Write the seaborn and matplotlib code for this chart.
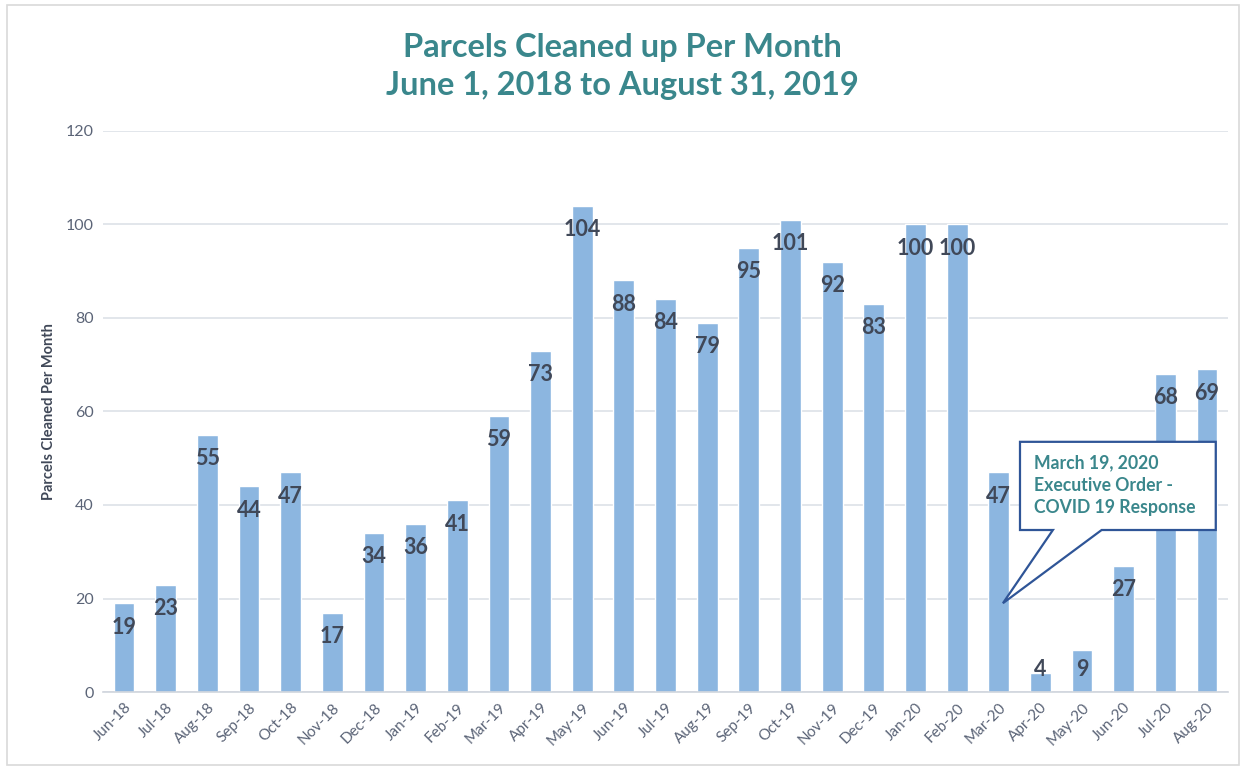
import matplotlib
matplotlib.use("Agg")
import numpy as np
import pandas as pd
import seaborn as sns
import matplotlib.pyplot as plt
from matplotlib.patches import Polygon, Rectangle

# === DONNÉES ===
months = ["Jun-18", "Jul-18", "Aug-18", "Sep-18", "Oct-18", "Nov-18", "Dec-18",
          "Jan-19", "Feb-19", "Mar-19", "Apr-19", "May-19", "Jun-19", "Jul-19",
          "Aug-19", "Sep-19", "Oct-19", "Nov-19", "Dec-19", "Jan-20", "Feb-20",
          "Mar-20", "Apr-20", "May-20", "Jun-20", "Jul-20", "Aug-20"]
parcels = [19, 23, 55, 44, 47, 17, 34, 36, 41, 59, 73, 104, 88, 84, 79, 95,
           101, 92, 83, 100, 100, 47, 4, 9, 27, 68, 69]
callout_lines = ["March 19, 2020", "Executive Order -", "COVID 19 Response"]

df = pd.DataFrame({"month": months, "parcels": parcels})

# === STYLE ===
sns.set_theme(style="white")
plt.rcParams["font.family"] = ["Lato", "DejaVu Sans"]

BAR = "#8cb6e0"
TEAL = "#3a878c"
LABEL = "#404858"
TICK = "#5b6477"
GRID = "#dde1e8"

fig = plt.figure(figsize=(12.44, 7.69), dpi=100)
ax = fig.add_axes([0.083, 0.100, 0.904, 0.730])

sns.barplot(data=df, x="month", y="parcels", color=BAR, saturation=1,
            width=0.5, ax=ax)

ax.set_ylim(0, 120)
ax.set_xlim(-0.5, len(months) - 0.5)
ax.set_yticks(range(0, 121, 20))
ax.yaxis.grid(True, color=GRID, linewidth=1.2)
ax.set_axisbelow(True)
for s in ["top", "right", "left"]:
    ax.spines[s].set_visible(False)
ax.spines["bottom"].set_color("#d0d5dd")
ax.spines["bottom"].set_linewidth(1.2)

ax.tick_params(axis="y", length=0, labelsize=11.5, labelcolor=TICK, pad=7)
ax.tick_params(axis="x", which="major", length=0, labelsize=11,
               labelcolor=TICK, pad=6)
ax.set_xticks(np.arange(-0.5, len(months), 1), minor=True)
ax.tick_params(axis="x", which="minor", length=5, color="#d0d5dd", width=1.2)
plt.setp(ax.get_xticklabels(), rotation=45, ha="right", rotation_mode="anchor")

ax.set_xlabel("")
ax.set_ylabel("Parcels Cleaned Per Month", fontsize=10.5, fontweight="bold",
              color=LABEL, labelpad=7)

# Étiquettes de valeurs (à l'intérieur, en haut des barres)
for i, v in enumerate(parcels):
    ax.text(i, max(v - 5.1, 4.8), str(v), ha="center", va="center",
            fontsize=15.5, fontweight="bold", color=LABEL)

# Titre
fig.text(0.5, 0.938, "Parcels Cleaned up Per Month", ha="center", va="center",
         fontsize=23.5, fontweight="bold", color=TEAL)
fig.text(0.5, 0.889, "June 1, 2018 to August 31, 2019", ha="center",
         va="center", fontsize=23.5, fontweight="bold", color=TEAL)

# Bulle d'annotation
bubble = [(21.51, 53.5), (26.21, 53.5), (26.21, 34.65), (23.47, 34.65),
          (21.1, 19.0), (22.3, 34.65), (21.51, 34.65)]
ax.add_patch(Polygon(bubble, closed=True, facecolor="white",
                     edgecolor="#2f5597", linewidth=1.6, zorder=5))
ax.text(21.85, 50.9, "\n".join(callout_lines), ha="left", va="top",
        fontsize=12.7, fontweight="bold", color=TEAL, linespacing=1.4,
        zorder=6)

# Cadre de la figure
fig.patches.append(Rectangle((0.006, 0.005), 0.99, 0.988, transform=fig.transFigure,
                             fill=False, edgecolor="#d9d9d9", linewidth=1.2))

fig.savefig("out.png", dpi=100)
